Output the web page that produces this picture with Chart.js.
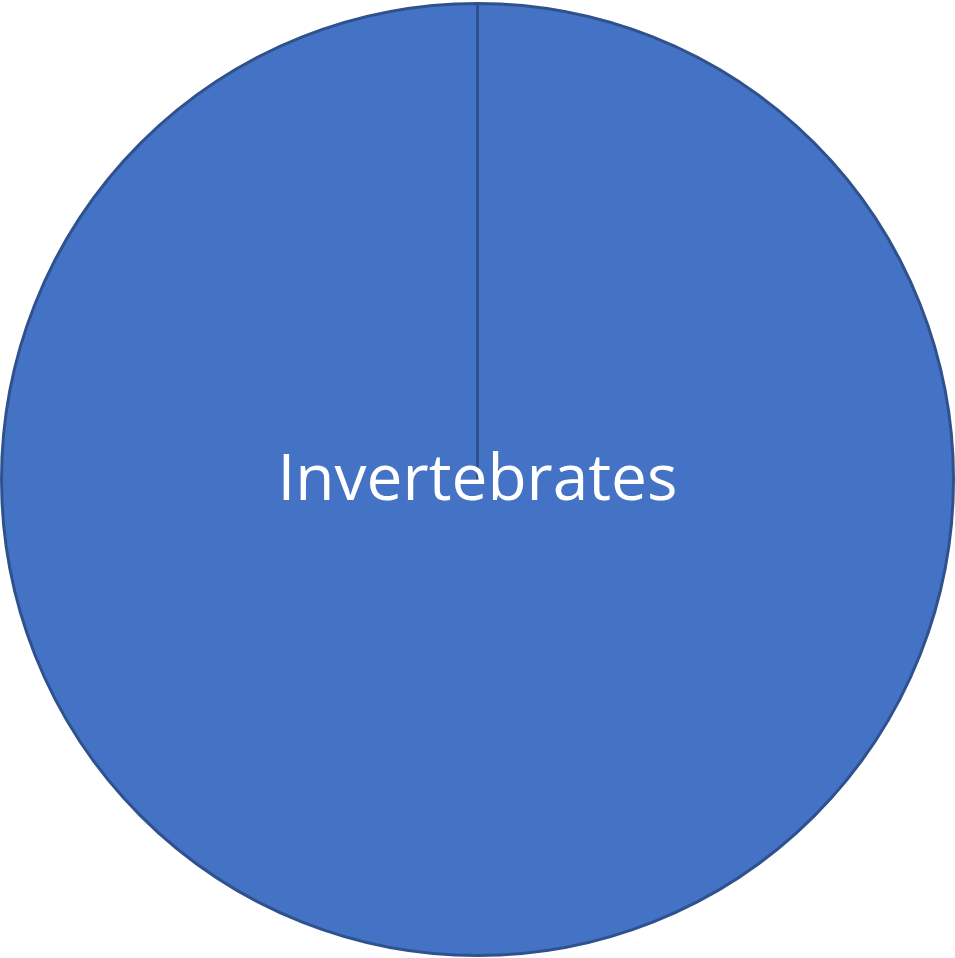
<!DOCTYPE html>
<html><head><meta charset="utf-8">
<script src="https://cdn.jsdelivr.net/npm/chart.js@4"></script>
<style>html,body{margin:0;padding:0;background:#fff}#w{width:955px;height:958px}</style>
</head><body><div id="w"><canvas id="c"></canvas></div>
<script>
const categories = ["Invertebrates"];
const values = [1];
const labelPlugin = {
  id: 'centerLabel',
  afterDatasetsDraw(chart) {
    const arc = chart.getDatasetMeta(0).data[0];
    const ctx = chart.ctx;
    ctx.save();
    ctx.fillStyle = '#ffffff';
    ctx.font = '64px "Open Sans", sans-serif';
    ctx.textAlign = 'center';
    ctx.textBaseline = 'middle';
    ctx.fillText(categories[0], arc.x, arc.y + 2);
    ctx.restore();
  }
};
new Chart(document.getElementById('c'), {
  type: 'pie',
  data: { labels: categories, datasets: [{ data: values, backgroundColor: '#4472C4', borderColor: '#2F528F', borderWidth: 3 }] },
  options: {
    responsive: true, maintainAspectRatio: false, animation: false,
    layout: { padding: { left: 0, right: 0, top: 2, bottom: 1 } },
    plugins: { legend: { display: false }, tooltip: { enabled: false } }
  },
  plugins: [labelPlugin]
});
</script></body></html>
